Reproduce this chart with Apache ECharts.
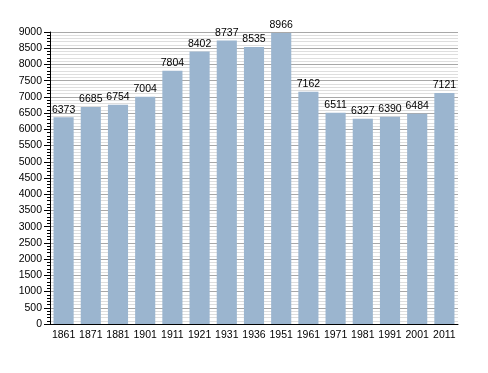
<!DOCTYPE html>
<html><head><meta charset="utf-8">
<script src="https://cdn.jsdelivr.net/npm/echarts@6/dist/echarts.min.js"></script>
<style>html,body{margin:0;padding:0;background:#fff}#c{width:488px;height:373px}</style>
</head><body><div id="c"></div>
<script>
const years = ['1861','1871','1881','1901','1911','1921','1931','1936','1951','1961','1971','1981','1991','2001','2011'];
const population = [6373,6685,6754,7004,7804,8402,8737,8535,8966,7162,6511,6327,6390,6484,7121];
const chart = echarts.init(document.getElementById('c'), null, {renderer:'canvas'});
chart.setOption({
  animation:false,
  grid:{left:50,right:30,top:32,bottom:49},
  textStyle:{fontFamily:'Liberation Sans, Arial, sans-serif'},
  xAxis:{type:'category',data:years,
    axisLine:{lineStyle:{color:'#000',width:1}},
    axisTick:{show:false},
    axisLabel:{color:'#000',fontSize:10.5,margin:6,interval:0}},
  yAxis:{type:'value',min:0,max:9000,interval:500,
    axisLine:{show:true,lineStyle:{color:'#000'}},
    axisTick:{show:true,inside:false,length:6,lineStyle:{color:'#000'}},
    minorTick:{show:true,splitNumber:5,length:3,lineStyle:{color:'#000'}},
    axisLabel:{color:'#000',fontSize:10.5,margin:8,formatter:v=>String(v)},
    splitLine:{lineStyle:{color:'#a8a8a8',width:1}},
    minorSplitLine:{show:true,lineStyle:{color:'#dedede',width:1}}},
  series:[{type:'bar',data:population,barCategoryGap:'26%',
    itemStyle:{color:'#9bb5cf'},
    label:{show:true,position:'top',color:'#000',fontSize:10.5,distance:2}}]
});
</script></body></html>
